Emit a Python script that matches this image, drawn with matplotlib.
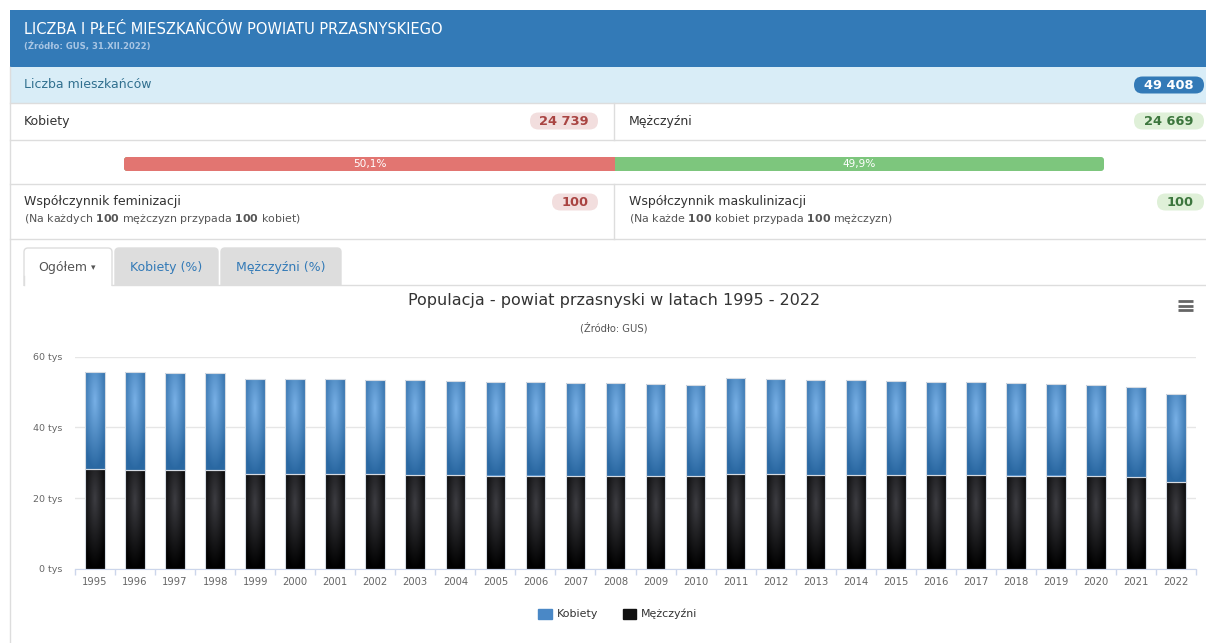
import matplotlib
matplotlib.use('Agg')
import matplotlib.pyplot as plt
from matplotlib.patches import FancyBboxPatch, Rectangle, Patch
import numpy as np

# data (thousands of people)
years = list(range(1995, 2023))
men = [28.3, 27.9, 27.9, 27.9, 26.9, 26.9, 26.9, 26.9, 26.6, 26.6,
       26.4, 26.4, 26.2, 26.2, 26.2, 26.2, 26.9, 26.9, 26.6, 26.6,
       26.6, 26.6, 26.6, 26.4, 26.4, 26.2, 25.9, 24.669]
women = [27.4, 27.8, 27.5, 27.5, 26.8, 26.8, 26.8, 26.6, 26.9, 26.6,
         26.5, 26.5, 26.4, 26.4, 26.1, 25.8, 26.9, 26.7, 26.9, 26.9,
         26.6, 26.3, 26.3, 26.2, 25.9, 25.8, 25.5, 24.739]
total_people = '49 408'
women_now = '24 739'
men_now = '24 669'
women_share = 50.1
men_share = 49.9
fem_ratio = 100
mask_ratio = 100

W, H = 1206, 643
fig = plt.figure(figsize=(W / 100, H / 100), dpi=100)
plt.rcParams['font.family'] = ['DejaVu Sans']

def pt(px):
    return px * 0.72

# background "page" axes in pixel coordinates
bg = fig.add_axes([0, 0, 1, 1])
bg.set_xlim(0, W)
bg.set_ylim(H, 0)
bg.axis('off')

line_c = '#dddddd'

# header
bg.add_patch(Rectangle((10, 10), W - 10, 57, color='#337ab7', lw=0))
bg.text(24, 30, 'LICZBA I PŁEĆ MIESZKAŃCÓW POWIATU PRZASNYSKIEGO', color='white',
        fontsize=pt(14.6), va='center')
bg.text(24, 46, '(Źródło: GUS, 31.XII.2022)', color='#a9c6e4', fontsize=pt(8.5),
        va='center', fontweight='bold')

# info row
bg.add_patch(Rectangle((10, 67), W - 10, 36, color='#d9edf7', lw=0))
bg.text(24, 85, 'Liczba mieszkańców', color='#31708f', fontsize=pt(12.5), va='center')

def badge(x0, x1, yc, txt, bgc, fg):
    h = 17
    bg.add_patch(FancyBboxPatch((x0, yc - h / 2), x1 - x0, h,
                                boxstyle='round,pad=0,rounding_size=8.5',
                                fc=bgc, ec='none'))
    bg.text((x0 + x1) / 2, yc + 0.5, txt, color=fg, fontsize=pt(13),
            fontweight='bold', ha='center', va='center')

badge(1134, 1204, 85, total_people, '#337ab7', 'white')

# borders
for y in [103, 140, 184, 239]:
    bg.plot([10, W], [y, y], color=line_c, lw=1)
bg.plot([10, 10], [67, H], color=line_c, lw=1)
bg.plot([614, 614], [103, 140], color=line_c, lw=1)
bg.plot([614, 614], [184, 239], color=line_c, lw=1)

# women / men row
bg.text(24, 121, 'Kobiety', color='#333333', fontsize=pt(12.5), va='center')
badge(530, 598, 121, women_now, '#f2dede', '#a94442')
bg.text(629, 121, 'Mężczyźni', color='#333333', fontsize=pt(12.5), va='center')
badge(1134, 1204, 121, men_now, '#dff0d8', '#3c763d')

# progress bar
px0, px1 = 124, 1104
split = px0 + (px1 - px0) * women_share / 100
bg.add_patch(FancyBboxPatch((px0, 157), px1 - px0, 14,
                            boxstyle='round,pad=0,rounding_size=3', fc='#7dc67d', ec='none'))
bg.add_patch(FancyBboxPatch((px0, 157), split - px0, 14,
                            boxstyle='round,pad=0,rounding_size=3', fc='#e27571', ec='none'))
bg.add_patch(Rectangle((split - 4, 157), 4, 14, fc='#e27571', ec='none'))
bg.text((px0 + split) / 2, 164.5, f'{women_share:.1f}%'.replace('.', ','), color='white',
        fontsize=pt(10.5), ha='center', va='center')
bg.text((split + px1) / 2, 164.5, f'{men_share:.1f}%'.replace('.', ','), color='white',
        fontsize=pt(10.5), ha='center', va='center')

# ratios
bg.text(24, 202, 'Współczynnik feminizacji', color='#333333', fontsize=pt(12.5), va='center')
bg.text(24, 219, f'(Na każdych $\\bf{{{fem_ratio}}}$ mężczyzn przypada $\\bf{{{fem_ratio}}}$ kobiet)',
        color='#555555', fontsize=pt(11), va='center')
badge(552, 598, 202, str(fem_ratio), '#f2dede', '#a94442')
bg.text(629, 202, 'Współczynnik maskulinizacji', color='#333333', fontsize=pt(12.5), va='center')
bg.text(629, 219, f'(Na każde $\\bf{{{mask_ratio}}}$ kobiet przypada $\\bf{{{mask_ratio}}}$ mężczyzn)',
        color='#555555', fontsize=pt(11), va='center')
badge(1157, 1204, 202, str(mask_ratio), '#dff0d8', '#3c763d')

# tabs
bg.add_patch(FancyBboxPatch((24, 248), 88, 45, boxstyle='round,pad=0,rounding_size=4',
                            fc='white', ec=line_c, lw=1))
bg.add_patch(FancyBboxPatch((115, 248), 103, 45, boxstyle='round,pad=0,rounding_size=4',
                            fc='#dddddd', ec='#dddddd', lw=1))
bg.add_patch(FancyBboxPatch((221, 248), 120, 45, boxstyle='round,pad=0,rounding_size=4',
                            fc='#dddddd', ec='#dddddd', lw=1))
bg.add_patch(Rectangle((12, 285.5), W, 40, fc='white', ec='none'))
bg.plot([112, W], [285, 285], color=line_c, lw=1)
bg.plot([24, 24], [276, 285], color=line_c, lw=1)
bg.text(38, 267, 'Ogółem', color='#555555', fontsize=pt(12.5), va='center')
bg.text(91, 268, '▾', color='#555555', fontsize=pt(9), va='center')
bg.text(166, 267, 'Kobiety (%)', color='#337ab7', fontsize=pt(12.5), va='center', ha='center')
bg.text(281, 267, 'Mężczyźni (%)', color='#337ab7', fontsize=pt(12.5), va='center', ha='center')

# chart title
bg.text(614, 301, 'Populacja - powiat przasnyski w latach 1995 - 2022', color='#333333',
        fontsize=pt(16), ha='center', va='center')
bg.text(614, 328, '(Źródło: GUS)', color='#555555', fontsize=pt(10), ha='center', va='center')
for y in [301, 305.5, 310]:
    bg.plot([1178, 1193], [y, y], color='#666666', lw=2, solid_capstyle='butt')

# chart axes
x0, x1 = 75, 1196
y_top, y_bot = 356.5, 569
ax = fig.add_axes([x0 / W, 1 - y_bot / H, (x1 - x0) / W, (y_bot - y_top) / H])
ax.patch.set_alpha(0)

x = np.arange(len(years))
bw = 0.49
men_bars = ax.bar(x, men, bw, color='#111111', zorder=2, lw=0)
women_bars = ax.bar(x, women, bw, bottom=men, color='#4a88c6', zorder=2, lw=0)

def shade(bars, c_in, c_out):
    c_in = np.array(matplotlib.colors.to_rgb(c_in))
    c_out = np.array(matplotlib.colors.to_rgb(c_out))
    u = np.linspace(0, 1, 20)[None, :]
    v = np.linspace(0, 1, 80)[:, None]
    d = np.clip(np.sqrt((u - 0.5) ** 2 + (v - 0.3) ** 2) / 0.7, 0, 1)
    img = c_in * (1 - d[..., None]) + c_out * d[..., None]
    for b in bars:
        bx, by = b.get_x(), b.get_y()
        im = ax.imshow(img, extent=(bx, bx + b.get_width(), by, by + b.get_height()),
                       origin='upper', aspect='auto', interpolation='bilinear', zorder=2.5)
        im.set_clip_path(b)

shade(women_bars, '#78b0e6', '#2a68a2')
shade(men_bars, '#3d3d42', '#000000')
ax.bar(x, men, bw, fc='none', ec='#d5dbe3', lw=0.8, zorder=3)
ax.bar(x, women, bw, bottom=men, fc='none', ec='#d5dbe3', lw=0.8, zorder=3)

ax.set_xlim(-0.5, len(years) - 0.5)
ax.set_ylim(0, 60)
ax.set_yticks([0, 20, 40, 60])
ax.set_yticklabels([f'{v} tys' for v in [0, 20, 40, 60]])
ax.grid(axis='y', color='#e6e6e6', lw=1, zorder=0)
ax.set_axisbelow(True)
ax.tick_params(axis='y', length=0, pad=9, labelsize=pt(9.5), labelcolor='#666666')
ax.set_xticks(x)
ax.set_xticklabels([str(y) for y in years])
ax.tick_params(axis='x', which='major', length=0, pad=6, labelsize=pt(10), labelcolor='#666666')
ax.set_xticks(np.arange(-0.5, len(years)), minor=True)
ax.tick_params(axis='x', which='minor', length=4, color='#ccd6eb', width=1)
for s in ['top', 'right', 'left']:
    ax.spines[s].set_visible(False)
ax.spines['bottom'].set_color('#ccd6eb')

handles = [Patch(fc='#4a88c6', ec='#4a88c6', label='Kobiety'),
           Patch(fc='#111111', ec='#111111', label='Mężczyźni')]
fig.legend(handles=handles, loc='center', bbox_to_anchor=(618 / W, 1 - 614 / H), ncol=2,
           frameon=False, fontsize=pt(11), handlelength=1.2, handleheight=1.0,
           columnspacing=2.2, handletextpad=0.5, labelcolor='#333333')

fig.savefig('out.png', dpi=100)
